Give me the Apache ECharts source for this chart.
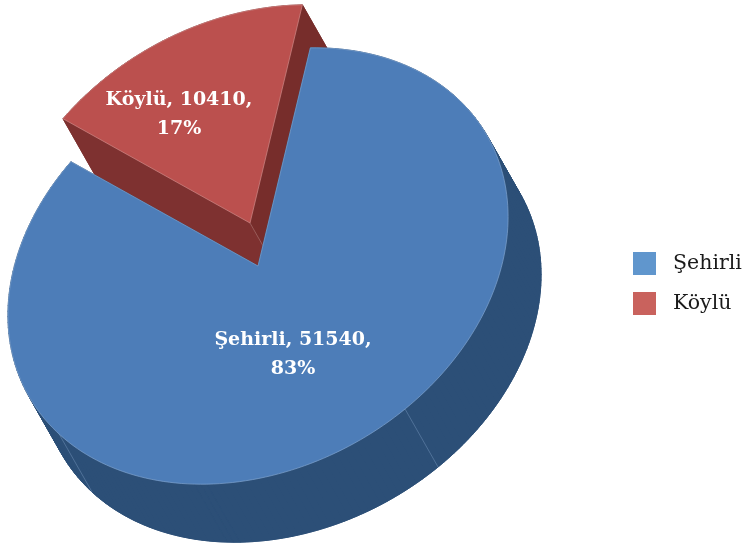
<!DOCTYPE html>
<html>
<head>
<meta charset="utf-8">
<style>html,body{margin:0;padding:0;background:#fff}#c{width:745px;height:543px}</style>
<script src="https://cdn.jsdelivr.net/npm/echarts@6/dist/echarts.min.js"></script>
</head>
<body>
<div id="c"></div>
<script>
const categories = ['Şehirli', 'Köylü'];
const values = [51540, 10410];
const percents = [83, 17];

const total = values.reduce((a, b) => a + b, 0);
const DEG = Math.PI / 180;
const U = [0.87, -0.49], V = [0.49, 0.87];   // axes of the tilted disc
const A = 264, B = 202;                       // disc radii
const DEPTH = [33, 58];                       // extrusion
const START = -54.6;                          // where the first slice begins
const CENTER = [[258, 266], [250, 223]];      // second slice is pulled out
const LABEL = [[293, 355], [179, 115]];
const TOP = ['#4d7db8', '#bb504e'];
const SIDE = ['#2c4f77', '#7e3130'];
const SIDE2 = ['#2c4f77', '#772d2b'];
const SEAMS = [77.3, 166];
const SWATCH = ['#6096cd', '#c9625d'];

function pt(c, deg, off) {
  const t = deg * DEG, x = A * Math.cos(t), y = B * Math.sin(t);
  return [c[0] + x * U[0] + y * V[0] + (off ? DEPTH[0] : 0),
          c[1] + x * U[1] + y * V[1] + (off ? DEPTH[1] : 0)];
}
function arc(c, a0, a1, off) {
  const n = Math.ceil(Math.abs(a1 - a0) / 1.5), out = [];
  for (let i = 0; i <= n; i++) out.push(pt(c, a0 + (a1 - a0) * i / n, off));
  return out;
}
function shift(p) { return [p[0] + DEPTH[0], p[1] + DEPTH[1]]; }
function poly(points, fill, stroke, sw) {
  return { type: 'polygon', shape: { points },
           style: { fill, stroke: stroke || fill, lineWidth: sw === undefined ? 0.8 : sw } };
}
function seam(p, color) {
  return { type: 'line', shape: { x1: p[0], y1: p[1], x2: p[0] + DEPTH[0], y2: p[1] + DEPTH[1] },
           style: { stroke: color, lineWidth: 0.7 } };
}
function makeItem(idx) {
  return function (params, api) {
    const before = values.slice(0, idx).reduce((a, b) => a + b, 0);
    const a0 = START + before / total * 360;
    const a1 = a0 + api.value(0) / total * 360;
    const c = CENTER[idx], kids = [];
    const rim = arc(c, a0, a1, false), rimLow = arc(c, a0, a1, true);
    // outer wall, one quad per arc step so the fold at the tangent stays filled
    kids.push(poly([shift(c)].concat(rimLow), SIDE[idx]));
    for (let i = 0; i < rim.length - 1; i++) {
      kids.push(poly([rim[i], rim[i + 1], rimLow[i + 1], rimLow[i]], SIDE[idx]));
    }
    // cut walls
    kids.push(poly([c, shift(c), rimLow[0], rim[0]], SIDE[idx]));
    kids.push(poly([c, shift(c), rimLow[rimLow.length - 1], rim[rim.length - 1]], SIDE2[idx]));
    if (idx === 0) {
      for (const deg of SEAMS) kids.push(seam(pt(c, deg, false), '#5f7fa6'));
    } else {
      kids.push(seam(c, '#a8706e'));
    }
    // top face
    kids.push(poly([c].concat(rim), TOP[idx], idx === 0 ? '#7fa3cf' : '#d08a88', 0.7));
    kids.push({
      type: 'text', x: LABEL[idx][0], y: LABEL[idx][1], z2: 10,
      style: {
        text: categories[idx] + ', ' + api.value(0) + ',\n' + percents[idx] + '%',
        fill: '#fff', font: 'bold 19px "DejaVu Serif"', align: 'center',
        verticalAlign: 'middle', lineHeight: 29
      }
    });
    return { type: 'group', children: kids };
  };
}

const chart = echarts.init(document.getElementById('c'), null, { renderer: 'canvas' });
chart.setOption({
  animation: false,
  backgroundColor: '#fff',
  tooltip: { show: false },
  legend: {
    orient: 'vertical', left: 633, top: 252, padding: 0, itemWidth: 23, itemHeight: 23, itemGap: 17,
    icon: 'rect', textStyle: { fontFamily: 'DejaVu Serif', fontSize: 20.5, color: '#1a1a1a', padding: [0, 0, 0, 12] },
    data: categories.map((name, i) => ({ name, itemStyle: { color: SWATCH[i] } }))
  },
  series: categories.map((name, i) => ({
    type: 'custom', name, coordinateSystem: 'none', silent: true,
    z: i === 0 ? 3 : 2,
    itemStyle: { color: SWATCH[i] },
    renderItem: makeItem(i),
    data: [[values[i]]]
  }))
});
</script>
</body>
</html>
